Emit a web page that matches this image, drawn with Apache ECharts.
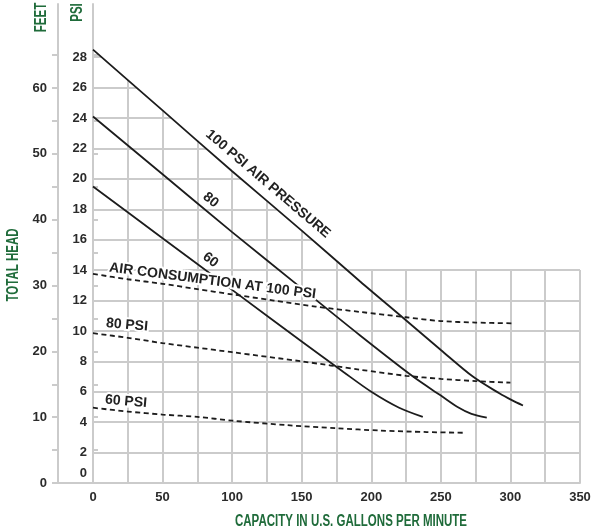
<!DOCTYPE html>
<html>
<head>
<meta charset="utf-8">
<script src="https://cdn.jsdelivr.net/npm/echarts@6/dist/echarts.min.js"></script>
<style>
html,body{margin:0;padding:0;background:#fff;}
#main{width:594px;height:531px;}
</style>
</head>
<body>
<div id="main"></div>
<script>
// ---- data (GPM, PSI) ----
const psi100 = [[0,28.5],[50,24.5],[100,20.5],[150,16.6],[192,13.25],[223,10.85],[250,8.75],[273,7.0],[292,5.9],[301,5.45],[309,5.1]];
const psi80  = [[0,24.1],[50,20.3],[100,16.5],[150,12.8],[192,9.7],[230,7.0],[250,5.75],[262,5.0],[272,4.55],[283,4.3]];
const psi60  = [[0,19.5],[50,16.1],[100,12.7],[150,9.3],[180,7.3],[200,6.0],[220,4.95],[237,4.35]];
const air100 = [[0,13.75],[25,13.4],[50,13.1],[75,12.75],[100,12.4],[130,12.0],[160,11.6],[192,11.25],[225,10.9],[250,10.65],[275,10.55],[302,10.5]];
const air80  = [[0,9.85],[25,9.55],[50,9.2],[75,8.9],[100,8.6],[150,8.0],[192,7.45],[225,7.05],[250,6.85],[275,6.7],[300,6.6]];
const air60  = [[0,4.95],[25,4.7],[50,4.5],[75,4.35],[100,4.1],[140,3.8],[175,3.6],[206,3.45],[240,3.35],[268,3.3]];

const xTicks = [0,50,100,150,200,250,300,350];
const psiLabels = [0,2,4,6,8,10,12,14,16,18,20,22,24,26,28];
const feetLabels = [0,10,20,30,40,50,60];
const feetTicks = [0,5,10,15,20,25,30,35,40,45,50,55,60,65];

const curveLabels = [
  {text:'100 PSI AIR PRESSURE', at:[125.8,19.66], rot:-40.4},
  {text:'80', at:[84.6,18.6], rot:-40},
  {text:'60', at:[84.4,14.67], rot:-38},
  {text:'AIR CONSUMPTION AT 100 PSI', at:[85.9,13.28], rot:-7.4},
  {text:'80 PSI', at:[24.4,10.39], rot:-5},
  {text:'60 PSI', at:[23.7,5.36], rot:-5}
];

// ---- style ----
const GRID = '#cbcbcb';
const INK = '#1c1c1c';
const GREEN = '#1f6b3a';
const TICKFONT = {fontFamily:'Liberation Sans', fontWeight:'bold', fontSize:13, color:'#2b2b2b'};
const PSI_MAX = 31.5;
const FT_PER_PSI = 2.31;

function interpY(arr, x){
  for(let i=0;i<arr.length-1;i++){
    const a=arr[i], b=arr[i+1];
    if(x>=a[0] && x<=b[0]) return a[1]+(b[1]-a[1])*(x-a[0])/(b[0]-a[0]);
  }
  return null;
}
function interpX(arr, y){
  for(let i=0;i<arr.length-1;i++){
    const a=arr[i], b=arr[i+1];
    if((y<=a[1] && y>=b[1])) return a[0]+(b[0]-a[0])*(a[1]-y)/(a[1]-b[1]);
  }
  return 0;
}

// grid segments (clipped under the 100 PSI curve above 14 PSI)
const gridSegs = [];
for(let g=25; g<=350; g+=25){
  let top=14;
  const c=interpY(psi100, g);
  if(c!==null && c>14) top=c;
  gridSegs.push([{coord:[g,0]},{coord:[g,top]}]);
}
for(let p=2; p<=28; p+=2){
  const right = p<=14 ? 350 : interpX(psi100, p);
  gridSegs.push([{coord:[0,p]},{coord:[right,p]}]);
}

function solid(name, data){
  return {name, type:'line', data, showSymbol:false, smooth:0.3,
    lineStyle:{color:INK, width:1.8}, z:5, silent:true};
}
function dashed(name, data){
  return {name, type:'line', data, showSymbol:false, smooth:0.3,
    lineStyle:{color:INK, width:1.8, type:[5,3.5]}, z:5, silent:true};
}

const option = {
  animation:false,
  grid:{left:93, right:14, top:4, bottom:48, containLabel:false},
  xAxis:{type:'value', min:0, max:350, interval:50,
    axisLine:{show:true, lineStyle:{color:GRID, width:2}},
    axisTick:{show:false},
    splitLine:{show:false},
    axisLabel:Object.assign({margin:8, customValues:xTicks}, TICKFONT)
  },
  yAxis:[
    {type:'value', min:0, max:PSI_MAX, interval:2, position:'left',
      axisLine:{show:true, onZero:false, lineStyle:{color:GRID, width:2}},
      axisTick:{show:false},
      splitLine:{show:false},
      axisLabel:Object.assign({margin:6, customValues:psiLabels,
        formatter:v => v===0 ? '{z|0}' : String(v),
        rich:{z:Object.assign({padding:[0,0,20,0]}, TICKFONT)}}, TICKFONT)
    },
    {type:'value', min:0, max:PSI_MAX*FT_PER_PSI, interval:5, position:'left', offset:35,
      axisLine:{show:true, onZero:false, lineStyle:{color:GRID, width:2}},
      axisTick:{show:true, length:6, customValues:feetTicks, lineStyle:{color:GRID, width:2}},
      splitLine:{show:false},
      axisLabel:Object.assign({margin:11, customValues:feetLabels}, TICKFONT)
    },
    {type:'value', min:0, max:PSI_MAX*FT_PER_PSI, interval:5, position:'left', offset:35,
      axisLine:{show:false},
      axisTick:{show:true, inside:true, length:5, customValues:feetTicks, lineStyle:{color:GRID, width:2}},
      splitLine:{show:false},
      axisLabel:{show:false}
    }
  ],
  series:[
    {type:'line', name:'grid', z:1, silent:true, data:[],
      markLine:{silent:true, symbol:['none','none'], animation:false,
        label:{show:false}, emphasis:{disabled:true},
        lineStyle:{color:GRID, width:2, type:'solid'},
        data:gridSegs}
    },
    solid('100 PSI', psi100),
    solid('80 PSI', psi80),
    solid('60 PSI', psi60),
    dashed('Air 100', air100),
    dashed('Air 80', air80),
    dashed('Air 60', air60)
  ]
};

const chart = echarts.init(document.getElementById('main'), null, {renderer:'canvas'});
chart.setOption(option);

const toPx = v => chart.convertToPixel({seriesIndex:1}, v);
const graphics = [];
curveLabels.forEach(l=>{
  const p = toPx(l.at);
  graphics.push({type:'text', x:p[0], y:p[1], rotation:l.rot*Math.PI/180, z:100,
    style:{text:l.text, font:'bold 14px "Liberation Sans"', fill:'#222',
      stroke:'#fff', lineWidth:4, strokeFirst:true,
      align:'center', verticalAlign:'middle', textAlign:'center', textVerticalAlign:'middle'}});
});
function title(text, x, y, rot){
  return {type:'text', x, y, rotation:rot, scaleX:0.72, z:100,
    style:{text, font:'bold 16px "Liberation Sans"', fill:GREEN,
      align:'center', verticalAlign:'middle', textAlign:'center', textVerticalAlign:'middle'}};
}
graphics.push(title('FEET', 42, 17.5, Math.PI/2));
graphics.push(title('PSI', 78, 12.5, Math.PI/2));
graphics.push(title('TOTAL HEAD', 14, 265, Math.PI/2));
graphics.push(title('CAPACITY IN U.S. GALLONS PER MINUTE', 351, 522, 0));
const o = toPx([0,0]);
graphics.push({type:'line', z:2, shape:{x1:o[0]-36, y1:o[1], x2:o[0], y2:o[1]}, style:{stroke:GRID, lineWidth:2}});
chart.setOption({graphic:graphics});
</script>
</body>
</html>
